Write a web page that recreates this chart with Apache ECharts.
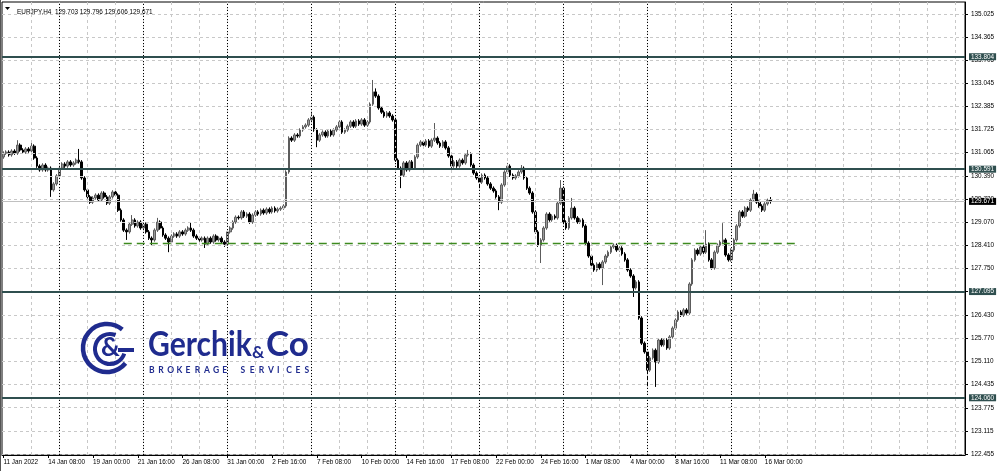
<!DOCTYPE html>
<html><head><meta charset="utf-8">
<script src="https://cdn.jsdelivr.net/npm/echarts@6/dist/echarts.min.js"></script>
<style>html,body{margin:0;padding:0;background:#fff}#c{width:1000px;height:471px}</style>
</head><body><div id="c"></div>
<script>
const symbolName = 'EURJPY,H4';
const lastOHLC = ['129.703', '129.796', '129.606', '129.671'];
const xTickLabels = ['11 Jan 2022','14 Jan 08:00','19 Jan 00:00','21 Jan 16:00','26 Jan 08:00','31 Jan 00:00','2 Feb 16:00','7 Feb 08:00','10 Feb 00:00','14 Feb 16:00','17 Feb 08:00','22 Feb 00:00','24 Feb 16:00','1 Mar 08:00','4 Mar 00:00','8 Mar 16:00','11 Mar 08:00','16 Mar 00:00'];
const yTickValues = [122.455,123.115,123.775,124.435,125.110,125.770,126.430,127.095,127.750,128.410,129.070,129.730,130.390,131.065,131.725,132.385,133.045,133.705,134.365,135.025];
const levelPrices = [133.804, 130.591, 127.095, 124.060];
const lastPrice = 129.671;
const supportPrice = 128.474;
const supportFromBar = 43, supportToBar = 283;
const weekStartBars = [20, 50, 80, 110, 140, 170, 200, 230, 260];
// H4 candles: [open, close, low, high]
const candles = [
[130.94,131.05,130.89,131.10],[131.05,131.08,131.00,131.13],[131.08,131.00,130.95,131.13],[131.00,131.11,130.95,131.16],[131.11,131.05,131.00,131.16],
[131.05,131.28,131.00,131.42],[131.28,131.14,131.09,131.33],[131.14,131.08,131.03,131.19],[131.08,131.17,131.03,131.22],[131.17,131.11,131.06,131.22],
[131.11,131.25,131.06,131.40],[131.25,130.91,130.86,131.30],[130.91,130.68,130.63,130.96],[130.68,130.57,130.52,130.73],[130.57,130.71,130.52,130.76],
[130.71,130.57,130.52,130.76],[130.57,130.62,130.52,130.67],[130.62,130.00,129.80,130.67],[130.00,130.17,129.95,130.22],[130.17,130.40,130.12,130.45],
[130.40,130.62,130.35,130.67],[130.62,130.74,130.57,130.79],[130.74,130.68,130.63,130.79],[130.68,130.80,130.63,130.85],[130.80,130.71,130.66,130.85],
[130.71,130.77,130.66,130.82],[130.77,130.85,130.72,130.90],[130.85,130.80,130.75,131.17],[130.80,130.34,130.29,130.85],[130.34,130.00,129.95,130.39],
[130.00,129.80,129.75,130.05],[129.80,129.65,129.60,129.85],[129.65,129.77,129.60,129.82],[129.77,129.85,129.72,129.90],[129.85,129.71,129.66,129.90],
[129.71,129.91,129.66,129.96],[129.91,129.80,129.75,129.96],[129.80,129.62,129.57,129.85],[129.62,129.80,129.57,129.85],[129.80,129.94,129.75,129.99],
[129.94,129.85,129.80,130.05],[129.85,129.42,129.37,129.90],[129.42,129.14,129.09,129.47],[129.14,128.85,128.80,129.19],[128.85,128.80,128.57,128.90],
[128.80,129.02,128.75,129.07],[129.02,129.14,128.97,129.28],[129.14,128.97,128.92,129.19],[128.97,129.08,128.92,129.13],[129.08,128.91,128.86,129.13],
[128.91,129.02,128.86,129.07],[129.02,128.80,128.75,129.07],[128.80,128.62,128.57,128.85],[128.62,128.57,128.42,128.67],[128.57,128.85,128.52,128.90],
[128.85,129.08,128.80,129.20],[129.08,128.91,128.86,129.13],[128.91,128.71,128.66,128.96],[128.71,128.62,128.57,128.76],[128.62,128.51,128.22,128.67],
[128.51,128.68,128.46,128.73],[128.68,128.74,128.63,128.79],[128.74,128.68,128.63,128.79],[128.68,128.80,128.63,128.85],[128.80,128.74,128.69,128.85],
[128.74,128.85,128.69,128.90],[128.85,128.91,128.80,128.96],[128.91,128.85,128.80,129.08],[128.85,128.68,128.63,128.90],[128.68,128.62,128.57,128.73],
[128.62,128.57,128.52,128.67],[128.57,128.62,128.52,128.67],[128.62,128.45,128.34,128.67],[128.45,128.62,128.40,128.67],[128.62,128.51,128.46,128.67],
[128.51,128.68,128.46,128.73],[128.68,128.57,128.52,128.73],[128.57,128.62,128.52,128.67],[128.62,128.51,128.46,128.67],[128.51,128.45,128.37,128.56],
[128.45,128.80,128.40,128.85],[128.80,128.91,128.75,128.96],[128.91,129.08,128.86,129.13],[129.08,129.22,129.03,129.27],[129.22,129.20,129.15,129.27],
[129.20,129.37,129.15,129.42],[129.37,129.25,129.20,129.42],[129.25,129.31,129.20,129.36],[129.31,129.08,129.03,129.36],[129.08,129.28,129.03,129.33],
[129.28,129.37,129.23,129.42],[129.37,129.31,129.26,129.42],[129.31,129.42,129.26,129.47],[129.42,129.34,129.29,129.47],[129.34,129.45,129.29,129.50],
[129.45,129.37,129.32,129.50],[129.37,129.48,129.32,129.53],[129.48,129.40,129.35,129.53],[129.40,129.45,129.35,129.50],[129.45,129.48,129.40,129.53],
[129.48,129.54,129.43,129.59],[129.54,130.51,129.49,130.56],[130.51,131.48,130.46,131.53],[131.48,131.42,131.37,131.53],[131.42,131.57,131.37,131.62],
[131.57,131.54,131.49,131.62],[131.54,131.71,131.49,131.76],[131.71,131.80,131.66,131.85],[131.80,131.85,131.75,131.90],[131.85,132.00,131.80,132.05],
[132.00,132.08,131.95,132.20],[132.08,131.71,131.66,132.13],[131.71,131.42,131.22,131.76],[131.42,131.57,131.37,131.62],[131.57,131.65,131.52,131.70],
[131.65,131.54,131.49,131.70],[131.54,131.68,131.49,131.73],[131.68,131.57,131.52,131.73],[131.57,131.71,131.52,131.76],[131.71,131.80,131.66,131.85],
[131.80,131.94,131.75,131.99],[131.94,131.65,131.60,131.99],[131.65,131.71,131.60,131.76],[131.71,131.82,131.66,131.87],[131.82,131.94,131.77,131.99],
[131.94,131.82,131.77,131.99],[131.82,131.97,131.77,132.02],[131.97,131.88,131.83,132.02],[131.88,132.00,131.83,132.05],[132.00,131.85,131.80,132.05],
[131.85,131.94,131.80,131.99],[131.94,132.45,131.89,132.50],[132.45,132.80,132.40,133.14],[132.80,132.68,132.63,132.90],[132.68,132.34,132.29,132.73],
[132.34,132.22,132.17,132.39],[132.22,132.11,132.06,132.27],[132.11,132.20,132.06,132.25],[132.20,132.11,132.06,132.25],[132.11,132.00,131.95,132.16],
[132.00,130.85,130.80,132.05],[130.85,130.62,130.57,130.90],[130.62,130.42,130.05,130.67],[130.42,130.77,130.37,130.82],[130.77,130.57,130.52,130.82],
[130.57,130.80,130.52,130.85],[130.80,130.62,130.57,130.85],[130.62,130.94,130.57,130.99],[130.94,131.28,130.89,131.33],[131.28,131.37,131.23,131.42],
[131.37,131.28,131.23,131.42],[131.28,131.40,131.23,131.45],[131.40,131.25,131.20,131.45],[131.25,131.42,131.20,131.47],[131.42,131.48,131.37,131.91],
[131.48,131.34,131.29,131.53],[131.34,131.25,131.20,131.39],[131.25,131.37,131.20,131.42],[131.37,131.20,131.15,131.42],[131.20,130.97,130.92,131.25],
[130.97,130.68,130.63,131.02],[130.68,130.80,130.63,130.85],[130.80,130.68,130.63,130.85],[130.68,130.85,130.63,130.90],[130.85,130.77,130.72,130.90],
[130.77,131.00,130.72,131.05],[131.00,131.02,130.95,131.14],[131.02,130.71,130.66,131.07],[130.71,130.48,130.43,130.76],[130.48,130.34,130.29,130.53],
[130.34,130.22,130.00,130.39],[130.22,130.42,130.17,130.47],[130.42,130.34,130.29,130.47],[130.34,130.17,130.12,130.39],[130.17,130.05,130.00,130.22],
[130.05,129.97,129.92,130.10],[129.97,129.80,129.75,130.02],[129.80,129.65,129.42,129.85],[129.65,130.14,129.60,130.19],[130.14,130.51,130.09,130.56],
[130.51,130.68,130.46,130.77],[130.68,130.42,130.37,130.73],[130.42,130.34,130.29,130.47],[130.34,130.40,130.29,130.45],[130.40,130.51,130.35,130.56],
[130.51,130.62,130.46,130.71],[130.62,130.34,130.29,130.67],[130.34,130.05,130.00,130.39],[130.05,129.91,129.86,130.10],[129.91,129.37,129.32,129.96],
[129.37,128.80,128.75,129.42],[128.80,128.42,128.37,128.85],[128.42,128.57,127.91,128.62],[128.57,128.91,128.52,128.96],[128.91,129.31,128.86,129.36],
[129.31,129.14,129.09,129.36],[129.14,129.25,129.09,129.30],[129.25,129.20,129.15,129.30],[129.20,129.62,129.15,129.67],[129.62,130.05,129.57,130.28],
[130.05,129.08,129.03,130.10],[129.08,128.91,128.86,129.13],[128.91,129.20,128.86,129.25],[129.20,129.48,129.15,129.77],[129.48,129.20,129.15,129.53],
[129.20,129.08,129.03,129.25],[129.08,129.14,129.03,129.19],[129.14,128.97,128.92,129.19],[128.97,128.48,128.43,129.02],[128.48,128.11,128.06,128.53],
[128.11,127.85,127.80,128.16],[127.85,127.71,127.66,127.90],[127.71,127.88,127.66,127.93],[127.88,127.77,127.72,127.93],[127.77,127.94,127.28,127.99],
[127.94,128.11,127.89,128.16],[128.11,128.22,128.06,128.27],[128.22,128.37,128.17,128.42],[128.37,128.42,128.32,128.47],[128.42,128.28,128.23,128.47],
[128.28,128.34,128.23,128.39],[128.34,128.17,128.12,128.39],[128.17,128.00,127.95,128.22],[128.00,127.71,127.66,128.05],[127.71,127.54,127.49,127.76],
[127.54,127.20,126.94,127.59],[127.20,127.37,127.15,127.42],[127.37,126.34,126.29,127.42],[126.34,125.62,125.57,126.39],[125.62,125.37,125.32,125.67],
[125.37,124.85,124.37,125.42],[124.85,125.20,124.80,125.25],[125.20,125.42,125.15,125.47],[125.42,125.08,124.37,125.47],[125.08,125.71,125.03,125.76],
[125.71,125.57,125.52,125.76],[125.57,125.71,125.52,125.76],[125.71,125.48,125.43,125.76],[125.48,125.80,125.43,125.85],[125.80,126.05,125.75,126.10],
[126.05,126.28,126.00,126.33],[126.28,126.51,126.23,126.56],[126.51,126.42,126.37,126.56],[126.42,126.57,126.37,126.62],[126.57,126.48,126.43,126.62],
[126.48,127.31,126.43,127.36],[127.31,128.00,127.26,128.05],[128.00,128.28,127.95,128.33],[128.28,128.17,128.12,128.33],[128.17,128.37,128.12,128.42],
[128.37,128.22,128.17,128.42],[128.22,128.45,128.17,128.85],[128.45,128.00,127.95,128.50],[128.00,127.77,127.72,128.05],[127.77,128.22,127.72,128.27],
[128.22,128.42,128.17,128.47],[128.42,128.51,128.37,128.56],[128.51,128.57,128.46,129.05],[128.57,128.14,128.09,128.62],[128.14,128.00,127.95,128.19],
[128.00,128.28,127.95,128.33],[128.28,128.57,128.23,128.62],[128.57,128.97,128.52,129.02],[128.97,129.37,128.92,129.42],[129.37,129.25,129.20,129.42],
[129.25,129.48,129.20,129.53],[129.48,129.42,129.37,129.53],[129.42,129.71,129.37,129.76],[129.71,129.88,129.66,130.00],[129.88,129.65,129.60,129.93],
[129.65,129.54,129.49,129.70],[129.54,129.42,129.37,129.59],[129.42,129.60,129.37,129.65],[129.60,129.70,129.55,129.75],[129.703,129.671,129.606,129.796]
];

const slotCount = 344;
const categories = Array.from({length: slotCount}, (_, i) => i);
const lightGridBars = [];
for (let i = 10; i < slotCount; i += 10) lightGridBars.push(i);

const FONT = 'Liberation Sans, Arial, sans-serif';
const FS = 6.4;
const LEVEL_COLOR = '#2f4f4f';
const BLUE = '#1f2b8e';

const chart = echarts.init(document.getElementById('c'), null, {renderer: 'canvas'});

const brokerText = 'BROKERAGE SERVICES';
const brokerLetters = brokerText.split('').map((ch, i) => ({
  type: 'text', left: 149 + i * 9.15, top: 366, z: 50, silent: true,
  style: {text: ch, fill: BLUE, font: 'bold 8.5px Lato, sans-serif'}
}));

const option = {
  animation: false,
  backgroundColor: '#fff',
  textStyle: {fontFamily: FONT},
  title: {
    text: symbolName + '  ' + lastOHLC.join(' '),
    left: 12, top: 4,
    textStyle: {fontSize: FS, fontWeight: 'normal', color: '#000', fontFamily: FONT}
  },
  grid: {left: 2, right: 35, top: 2, bottom: 16, show: true, borderColor: '#000', borderWidth: 1, containLabel: false},
  xAxis: {
    type: 'category', data: categories, boundaryGap: true,
    axisLine: {show: true, lineStyle: {color: '#000', width: 1}},
    axisTick: {show: true, alignWithLabel: true, length: 3, interval: (i) => i % 16 === 0 && i / 16 < xTickLabels.length, lineStyle: {color: '#000'}},
    axisLabel: {
      show: true, interval: (i) => i % 16 === 0 && i / 16 < xTickLabels.length,
      formatter: (v, i) => xTickLabels[i / 16] || '',
      align: 'left', margin: 4, fontSize: FS, color: '#000', fontFamily: FONT
    },
    splitLine: {show: false}
  },
  yAxis: {
    type: 'value', position: 'right', min: 122.425, max: 135.368, scale: true,
    axisLine: {show: true, lineStyle: {color: '#000', width: 1}},
    axisTick: {show: true, length: 3, customValues: yTickValues, lineStyle: {color: '#000'}},
    axisLabel: {show: true, customValues: yTickValues, formatter: (v) => v.toFixed(3), margin: 6, fontSize: FS, color: '#000', fontFamily: FONT},
    splitLine: {show: false}
  },
  series: [
    {
      type: 'line', data: [], z: 1, silent: true,
      markLine: {
        silent: true, symbol: 'none', animation: false, label: {show: false},
        lineStyle: {color: '#c8c8c8', type: [3, 3], width: 1},
        data: yTickValues.map(v => ({yAxis: v})).concat(lightGridBars.map(b => ({xAxis: b})))
      }
    },
    {
      type: 'line', data: [], z: 1, silent: true,
      markLine: {
        silent: true, symbol: 'none', animation: false, label: {show: false},
        lineStyle: {color: '#000', type: [1, 2], width: 1},
        data: weekStartBars.map(b => ({xAxis: b}))
      }
    },
    {
      type: 'line', data: [], z: 1, silent: true,
      markLine: {
        silent: true, symbol: 'none', animation: false, precision: 3,
        lineStyle: {color: '#c0c0c0', type: 'solid', width: 1},
        label: {show: true, position: 'end', distance: 4, formatter: () => lastPrice.toFixed(3), color: '#fff', backgroundColor: '#000', padding: [1, 2, 0, 2], fontSize: FS, fontFamily: FONT},
        data: [{yAxis: lastPrice}]
      }
    },
    {
      type: 'candlestick', name: symbolName, data: candles, z: 2, barWidth: 2.2, silent: true,
      itemStyle: {color: '#9a9a9a', color0: '#000000', borderColor: '#5c5c5c', borderColor0: '#000000', borderWidth: 1}
    },
    {
      type: 'line', data: [], z: 3, silent: true,
      markLine: {
        silent: true, symbol: 'none', animation: false,
        lineStyle: {color: '#3d8a1f', type: [8, 5], width: 1.3},
        label: {show: false},
        data: [[{coord: [supportFromBar, supportPrice]}, {coord: [supportToBar, supportPrice]}]]
      }
    },
    {
      type: 'line', data: [], z: 4, silent: true,
      markLine: {
        silent: true, symbol: 'none', animation: false, precision: 3,
        lineStyle: {color: LEVEL_COLOR, type: 'solid', width: 2},
        label: {show: true, position: 'end', distance: 4, formatter: (p) => levelPrices[p.dataIndex].toFixed(3), color: '#fff', backgroundColor: LEVEL_COLOR, padding: [1, 2, 0, 2], fontSize: FS, fontFamily: FONT},
        data: levelPrices.map(v => ({yAxis: v}))
      }
    }
  ],
  graphic: [
    {type: 'polygon', z: 50, silent: true, shape: {points: [[5, 7], [10, 7], [7.5, 10]]}, style: {fill: '#000'}},
    {type: 'line', z: 50, silent: true, shape: {x1: 0.5, y1: 0, x2: 0.5, y2: 471}, style: {stroke: '#555', lineWidth: 1}},
    {type: 'arc', z: 50, silent: true, shape: {cx: 107, cy: 348, r: 24, startAngle: Math.PI * 0.22, endAngle: Math.PI * 1.72, clockwise: true}, style: {stroke: BLUE, lineWidth: 4.5, fill: null}},
    {type: 'arc', z: 50, silent: true, shape: {cx: 110, cy: 349, r: 15, startAngle: Math.PI * 0.1, endAngle: Math.PI * 1.62, clockwise: true}, style: {stroke: BLUE, lineWidth: 4, fill: null}},
    {type: 'line', z: 50, silent: true, shape: {x1: 118, y1: 350, x2: 134, y2: 350}, style: {stroke: BLUE, lineWidth: 4}},
    {type: 'text', z: 51, silent: true, left: 101, top: 335, style: {text: '&', fill: BLUE, font: 'bold 26px Lato, sans-serif'}},
    {type: 'text', z: 50, silent: true, left: 148, top: 327, scaleX: 0.86, style: {text: 'Gerchik', fill: BLUE, font: 'bold 35px Lato, sans-serif'}},
    {type: 'text', z: 50, silent: true, left: 252, top: 344, style: {text: '&', fill: BLUE, font: 'bold 17px Lato, sans-serif'}},
    {type: 'text', z: 50, silent: true, left: 266, top: 327, style: {text: 'Co', fill: BLUE, font: 'bold 35px Lato, sans-serif'}}
  ].concat(brokerLetters)
};
chart.setOption(option);
</script>
</body></html>
